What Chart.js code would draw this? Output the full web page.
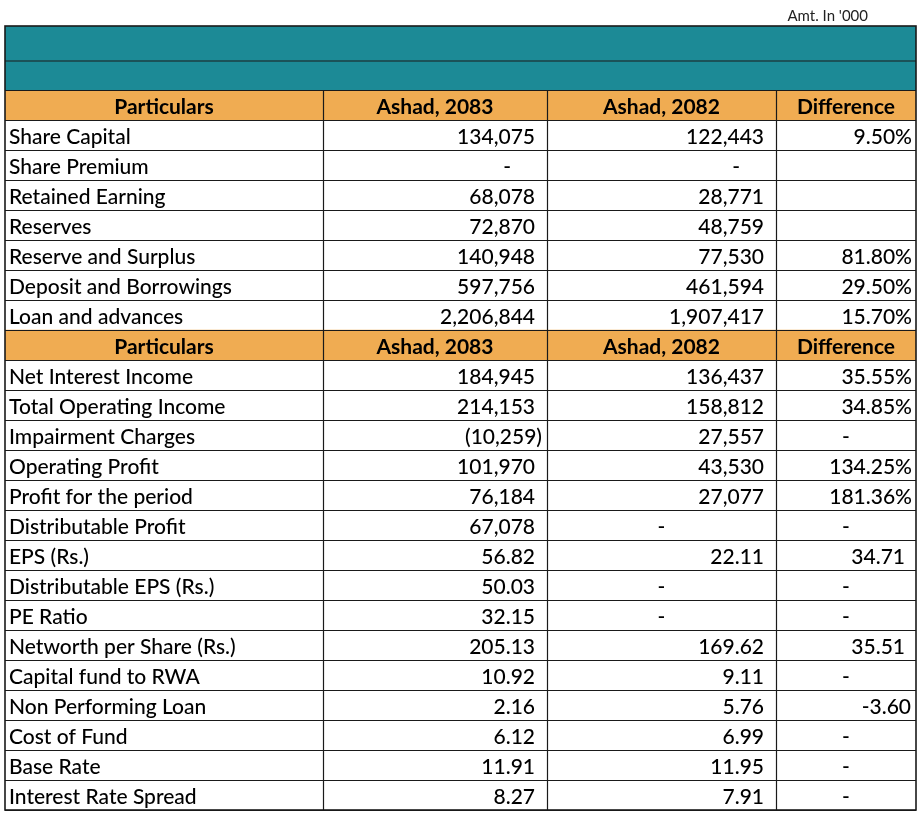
<!DOCTYPE html>
<html>
<head>
<meta charset="utf-8">
<script src="https://cdn.jsdelivr.net/npm/chart.js@4.4.0/dist/chart.umd.min.js"></script>
<style>
  html, body { margin: 0; padding: 0; background: #fff; }
  #wrap { position: relative; width: 921px; height: 815px; }
</style>
</head>
<body>
<div id="wrap"><canvas id="table" width="921" height="815"></canvas></div>
<script>
const unitNote = "Amt. In '000";
const headers = ["Particulars", "Ashad, 2083", "Ashad, 2082", "Difference"];

const balanceItems = ["Share Capital", "Share Premium", "Retained Earning", "Reserves",
  "Reserve and Surplus", "Deposit and Borrowings", "Loan and advances"];
const balance2083 = [134075, 0, 68078, 72870, 140948, 597756, 2206844];
const balance2082 = [122443, 0, 28771, 48759, 77530, 461594, 1907417];
const balanceDiff = ["9.50%", "", "", "", "81.80%", "29.50%", "15.70%"];

const incomeItems = ["Net Interest Income", "Total Operating Income", "Impairment Charges",
  "Operating Profit", "Profit for the period", "Distributable Profit", "EPS (Rs.)",
  "Distributable EPS (Rs.)", "PE Ratio", "Networth per Share (Rs.)", "Capital fund to RWA",
  "Non Performing Loan", "Cost of Fund", "Base Rate", "Interest Rate Spread"];
const income2083 = [184945, 214153, -10259, 101970, 76184, 67078, 56.82, 50.03, 32.15,
  205.13, 10.92, 2.16, 6.12, 11.91, 8.27];
const income2082 = [136437, 158812, 27557, 43530, 27077, null, 22.11, null, null,
  169.62, 9.11, 5.76, 6.99, 11.95, 7.91];
const incomeDiff = ["35.55%", "34.85%", "-", "134.25%", "181.36%", "-", "34.71", "-", "-",
  "35.51", "-", "-3.60", "-", "-", "-"];

// layout
const TABLE_W = 911;
const COL_EDGES = [0, 318, 542, 771, 911];
const TEAL = "#1c8a96";
const ORANGE = "#f0ac52";
const LINE = "#1a1a1a";
const FONT = "Lato, 'Noto Sans', sans-serif";

// build rows: header, balance sheet items, header, income items
const rows = [{ head: true, label: headers[0] }];
balanceItems.forEach((name, i) => rows.push({
  label: name, cells: [balance2083[i], balance2082[i], balanceDiff[i]]
}));
rows.push({ head: true, label: headers[0] });
incomeItems.forEach((name, i) => rows.push({
  label: name, cells: [income2083[i], income2082[i], incomeDiff[i]]
}));

function fmtAmount(v) {
  // accounting style: 0 -> "-", negative in brackets
  if (v === null) return { text: "-", center: true };
  if (v === 0) return { text: "-", pad: 36 };
  if (Number.isInteger(v)) {
    const s = Math.abs(v).toLocaleString("en-US");
    return v < 0 ? { text: "(" + s + ")", pad: 5 } : { text: s, pad: 12 };
  }
  return { text: v.toFixed(2), pad: 12 };
}

function fmtDiff(s) {
  if (s === "") return null;
  if (s === "-") return { text: "-", center: true };
  if (s.endsWith("%")) return { text: s, pad: 4 };
  if (s.startsWith("-")) return { text: s, pad: 5 };
  return { text: s, pad: 11 };
}

const tablePlugin = {
  id: "tablePlugin",
  afterDatasetsDraw(chart) {
    const ctx = chart.ctx;
    const x = chart.scales.x, y = chart.scales.y;
    const half = (y.getPixelForValue(1) - y.getPixelForValue(0)) / 2;
    const left = x.getPixelForValue(0), right = x.getPixelForValue(TABLE_W);
    const top = y.getPixelForValue(0) - half;
    const bottom = y.getPixelForValue(rows.length - 1) + half;
    const colX = COL_EDGES.map(e => x.getPixelForValue(e));

    ctx.save();
    // teal title band
    ctx.fillStyle = TEAL;
    ctx.fillRect(left, top - 64, right - left, 64);

    ctx.strokeStyle = LINE;
    ctx.lineWidth = 1.2;
    ctx.beginPath();
    ctx.moveTo(left, top - 29); ctx.lineTo(right, top - 29);
    // horizontal lines
    for (let i = 0; i <= rows.length; i++) {
      const py = Math.round(top + i * half * 2) + 0.5;
      ctx.moveTo(left, py); ctx.lineTo(right, py);
    }
    // vertical lines
    colX.slice(1, -1).forEach(cx => {
      ctx.moveTo(Math.round(cx) + 0.5, top); ctx.lineTo(Math.round(cx) + 0.5, bottom);
    });
    ctx.stroke();
    ctx.lineWidth = 1.6;
    ctx.strokeRect(left, top - 64, right - left, bottom - top + 64);

    // texts
    ctx.textBaseline = "middle";
    ctx.fillStyle = "#000";
    rows.forEach((r, i) => {
      const cy = y.getPixelForValue(i) + 2;
      if (r.head) {
        ctx.font = "bold 21px " + FONT;
        ctx.textAlign = "center";
        headers.forEach((h, c) => ctx.fillText(h, (colX[c] + colX[c + 1]) / 2, cy));
        return;
      }
      ctx.font = "500 21px " + FONT;
      ctx.textAlign = "left";
      ctx.fillText(r.label, colX[0] + 4, cy);
      const cells = [fmtAmount(r.cells[0]), fmtAmount(r.cells[1]), fmtDiff(r.cells[2])];
      cells.forEach((cell, c) => {
        if (!cell) return;
        if (cell.center) {
          ctx.textAlign = "center";
          ctx.fillText(cell.text, (colX[c + 1] + colX[c + 2]) / 2, cy);
        } else {
          ctx.textAlign = "right";
          ctx.fillText(cell.text, colX[c + 2] - cell.pad, cy);
        }
      });
    });

    // unit note
    ctx.font = "15px " + FONT;
    ctx.fillStyle = "#222";
    ctx.textAlign = "right";
    ctx.fillText(unitNote, 868, 16);
    ctx.restore();
  }
};

new Chart(document.getElementById("table"), {
  type: "bar",
  data: {
    labels: rows.map(r => r.label),
    datasets: [{
      label: "header",
      data: rows.map(r => r.head ? [0, TABLE_W] : null),
      backgroundColor: ORANGE,
      borderWidth: 0,
      barPercentage: 1,
      categoryPercentage: 1
    }]
  },
  options: {
    indexAxis: "y",
    responsive: false,
    animation: false,
    layout: { padding: { left: 5, right: 5, top: 90, bottom: 5 } },
    scales: {
      x: { type: "linear", min: 0, max: TABLE_W, display: false },
      y: { display: false }
    },
    plugins: { legend: { display: false }, tooltip: { enabled: false } }
  },
  plugins: [tablePlugin]
});
</script>
</body>
</html>
